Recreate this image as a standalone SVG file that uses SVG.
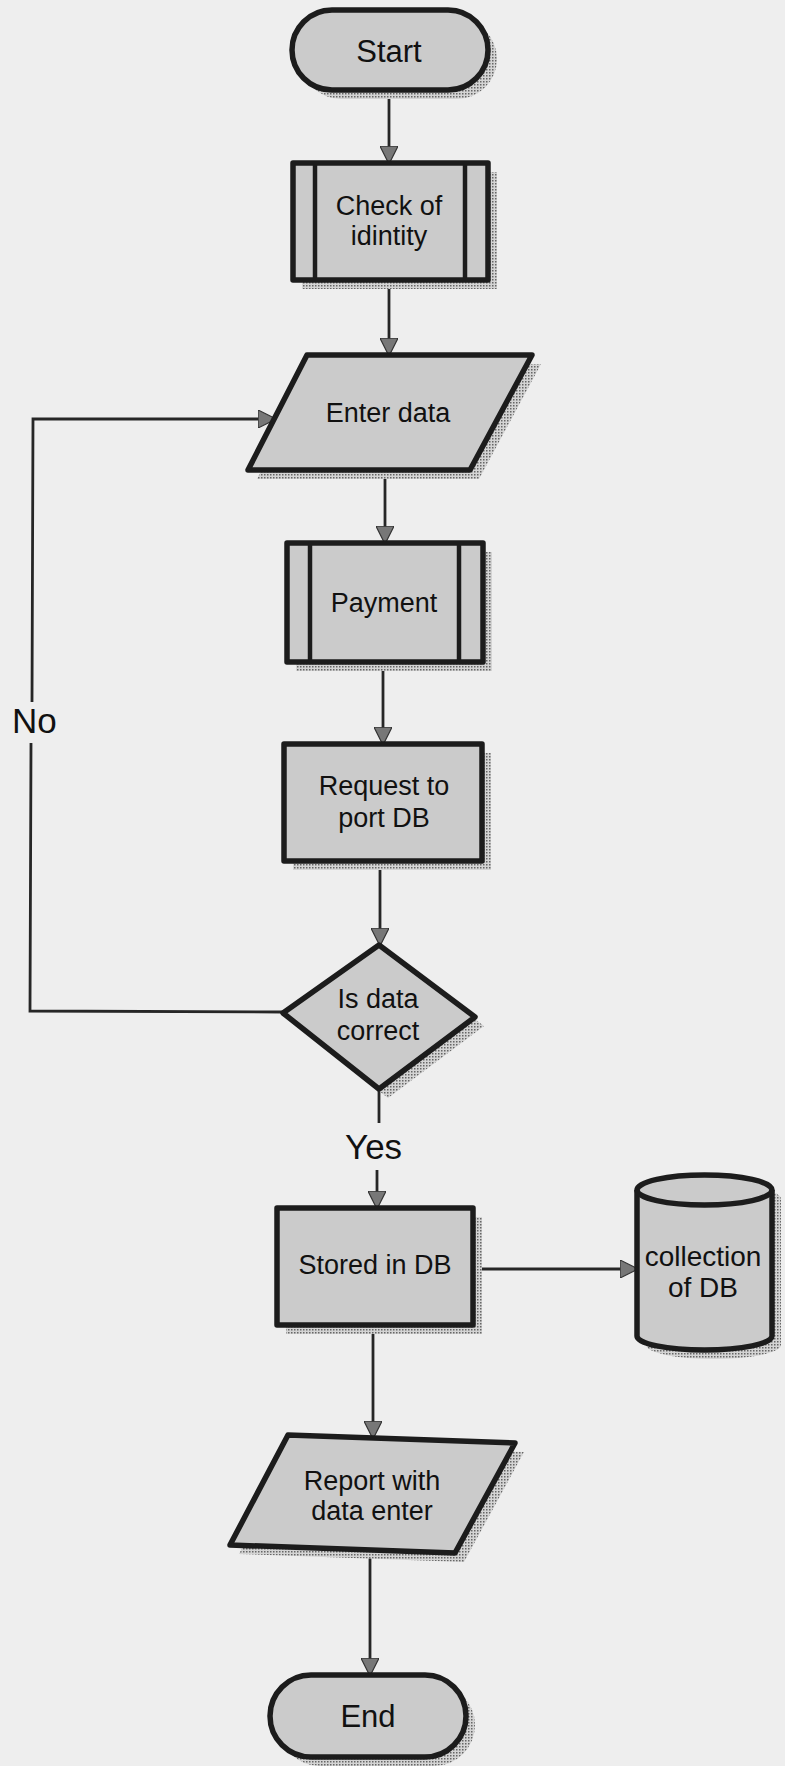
<svg xmlns="http://www.w3.org/2000/svg" width="785" height="1766" viewBox="0 0 785 1766">
<defs>
<pattern id="dots" width="3" height="3" patternUnits="userSpaceOnUse"><rect width="3" height="3" fill="#d4d4d4"/><rect width="1.5" height="1.5" fill="#666"/></pattern>
<marker id="arr" markerUnits="userSpaceOnUse" markerWidth="18" markerHeight="18" viewBox="0 0 16 16" refX="15" refY="8" orient="auto"><path d="M0,0 L16,8 L0,16 z" fill="#777" stroke="#333" stroke-width="1"/></marker>
</defs>
<style>
.sh{fill:url(#dots);stroke:none}
.nd{fill:#cbcbcb;stroke:#1c1c1c;stroke-width:5.5;stroke-linejoin:round}
.bar{stroke:#1c1c1c;stroke-width:4.5}
.t{font-family:"Liberation Sans",Arial,sans-serif;font-size:27px;fill:#111;text-anchor:middle}
.big{font-size:31px}
.lbl{font-family:"Liberation Sans",Arial,sans-serif;font-size:35px;fill:#111}
.c{fill:none;stroke:#262626;stroke-width:2.8}
</style>
<rect width="785" height="1766" fill="#eeeeee"/>

<g id="connectors">
<path class="c" d="M389,90 V163" marker-end="url(#arr)"/>
<path class="c" d="M389,280 V355" marker-end="url(#arr)"/>
<path class="c" d="M385,470 V543" marker-end="url(#arr)"/>
<path class="c" d="M383,662 V744" marker-end="url(#arr)"/>
<path class="c" d="M380,861 V945" marker-end="url(#arr)"/>
<path class="c" d="M379,1089 V1123"/>
<path class="c" d="M377,1170 V1208" marker-end="url(#arr)"/>
<path class="c" d="M473,1269 H637" marker-end="url(#arr)"/>
<path class="c" d="M373,1325 V1438" marker-end="url(#arr)"/>
<path class="c" d="M370,1548 V1675" marker-end="url(#arr)"/>
<path class="c" d="M283,1012 L30,1011 L31,743"/>
<path class="c" d="M32,702 L33,419 L275,419" marker-end="url(#arr)"/>
<text class="lbl" x="12" y="733">No</text>
<text class="lbl" x="345" y="1159">Yes</text>
</g>

<g id="start">
<rect class="sh" x="301" y="19" width="196" height="80" rx="40"/>
<rect class="nd" x="292" y="10" width="196" height="80" rx="40"/>
<text class="t big" x="389" y="62">Start</text>
</g>

<g id="check">
<rect class="sh" x="302" y="172" width="195" height="117"/>
<rect class="nd" x="293" y="163" width="195" height="117"/>
<line class="bar" x1="315" y1="163" x2="315" y2="280"/>
<line class="bar" x1="465" y1="163" x2="465" y2="280"/>
<text class="t" x="389" y="215">Check of</text>
<text class="t" x="389" y="245">idintity</text>
</g>

<g id="enter">
<polygon class="sh" points="316,364 541,364 479,479 257,479"/>
<polygon class="nd" points="307,355 532,355 470,470 248,470"/>
<text class="t" x="388" y="422">Enter data</text>
</g>

<g id="payment">
<rect class="sh" x="296" y="552" width="196" height="119"/>
<rect class="nd" x="287" y="543" width="196" height="119"/>
<line class="bar" x1="310" y1="543" x2="310" y2="662"/>
<line class="bar" x1="459" y1="543" x2="459" y2="662"/>
<text class="t" x="384" y="612">Payment</text>
</g>

<g id="request">
<rect class="sh" x="293" y="753" width="198" height="117"/>
<rect class="nd" x="284" y="744" width="198" height="117"/>
<text class="t" x="384" y="795">Request to</text>
<text class="t" x="384" y="827">port DB</text>
</g>

<g id="decision">
<polygon class="sh" points="388,954 484,1026 388,1098 292,1022"/>
<polygon class="nd" points="379,945 475,1017 379,1089 283,1013"/>
<text class="t" x="378" y="1008">Is data</text>
<text class="t" x="378" y="1040">correct</text>
</g>

<g id="stored">
<rect class="sh" x="286" y="1217" width="196" height="117"/>
<rect class="nd" x="277" y="1208" width="196" height="117"/>
<text class="t" x="375" y="1274">Stored in DB</text>
</g>

<g id="collection">
<path class="sh" d="M646,1199 A67.5,15 0 0 1 781,1199 V1345 A67.5,14 0 0 1 646,1345 Z"/>
<path class="nd" d="M637,1190 A67.5,15 0 0 1 772,1190 V1336 A67.5,14 0 0 1 637,1336 Z"/>
<path class="nd" style="fill:none" d="M637,1190 A67.5,15 0 0 0 772,1190"/>
<text class="t" x="703" y="1266" style="font-size:28px">collection</text>
<text class="t" x="703" y="1297" style="font-size:28px">of DB</text>
</g>

<g id="report">
<polygon class="sh" points="297,1444 524,1452 464,1562 239,1554"/>
<polygon class="nd" points="288,1435 515,1443 455,1553 230,1545"/>
<text class="t" x="372" y="1490">Report with</text>
<text class="t" x="372" y="1520">data enter</text>
</g>

<g id="end">
<rect class="sh" x="279" y="1684" width="196" height="82" rx="41"/>
<rect class="nd" x="270" y="1675" width="196" height="82" rx="41"/>
<text class="t big" x="368" y="1727">End</text>
</g>
</svg>
